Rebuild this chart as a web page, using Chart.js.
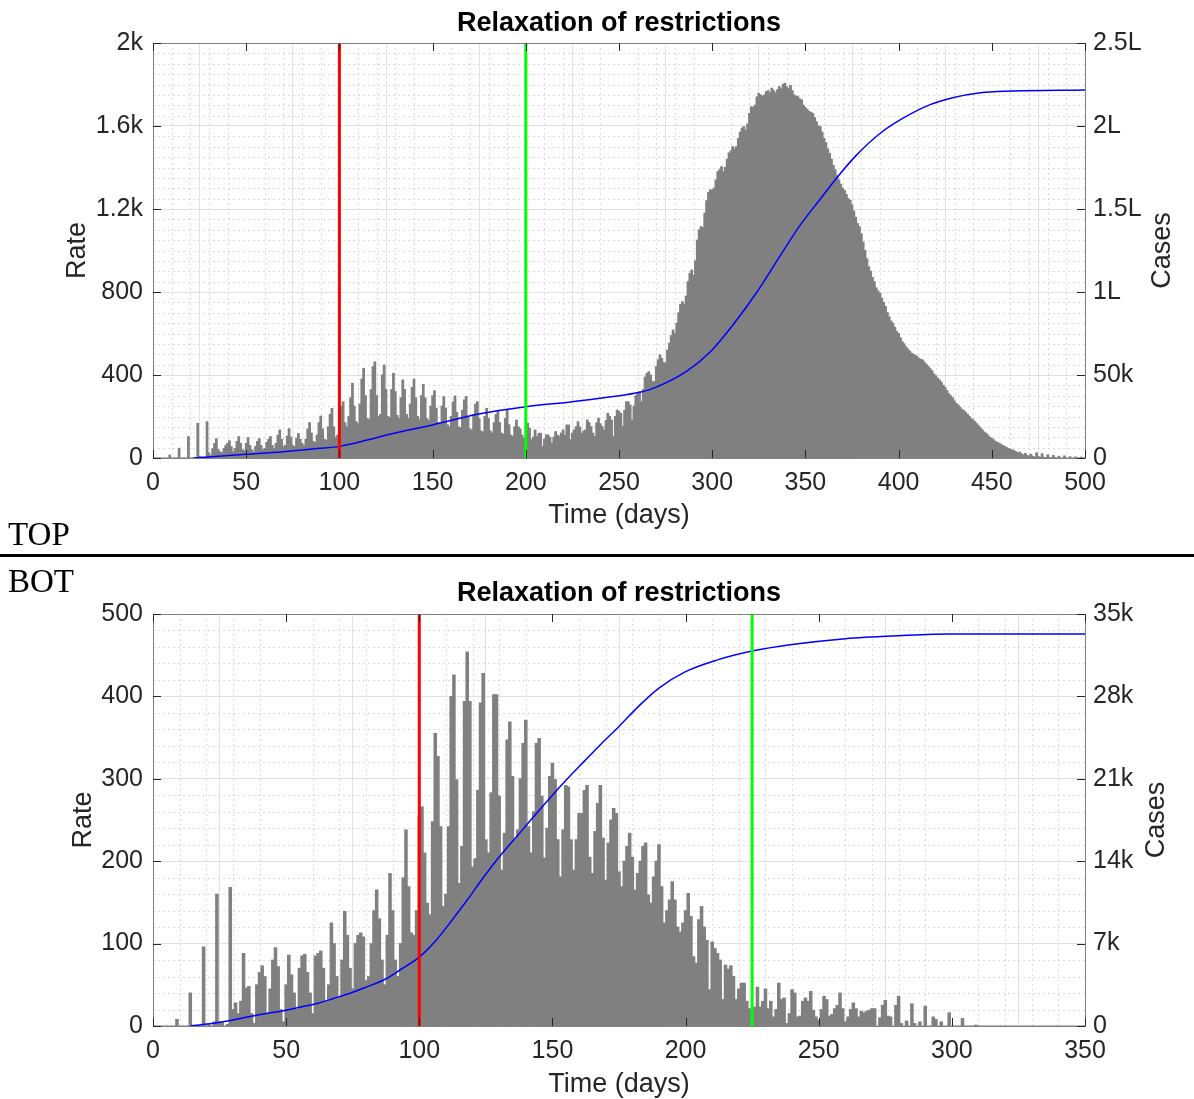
<!DOCTYPE html>
<html>
<head>
<meta charset="utf-8">
<script src="https://cdn.jsdelivr.net/npm/chart.js@4.4.1/dist/chart.umd.min.js"></script>
<style>
  html, body { margin: 0; padding: 0; background: #fff; }
  body { width: 1194px; height: 1099px; position: relative; overflow: hidden; }
  .panel { position: absolute; left: 0; width: 1194px; }
  .panel canvas { display: block; }
  #topPanel { top: 0; height: 540px; }
  #botPanel { top: 570px; height: 529px; }
  .tag { position: absolute; left: 8px; font: 33px "Liberation Serif", "Times New Roman", serif; line-height: 33px; color: #000; z-index: 2; }
  #sep { position: absolute; left: 0; top: 554px; width: 1194px; height: 3px; background: #000; z-index: 2; }
</style>
</head>
<body>
<div class="panel" id="topPanel"><canvas id="topChart" width="1194" height="540"></canvas></div>
<div class="panel" id="botPanel"><canvas id="botChart" width="1194" height="529"></canvas></div>
<div class="tag" style="top:518px">TOP</div>
<div id="sep"></div>
<div class="tag" style="top:565px">BOT</div>
<script>
// ---- TOP panel data (day 0..500) ----
var topRate = [
  0,0,0,0,0,0,0,0,0,14,
  0,0,0,0,47,0,0,0,0,103,
  0,0,3,0,167,8,4,0,2,175,
  25,12,45,70,93,40,30,25,45,60,
  70,83,55,30,45,80,103,70,40,35,
  70,98,60,40,30,55,80,93,60,40,
  45,75,90,103,60,45,70,110,135,90,
  55,60,105,141,100,60,55,95,118,90,
  70,60,90,140,170,120,80,75,110,170,
  202,140,90,85,150,210,239,150,100,110,
  180,250,271,170,150,200,290,360,250,175,
  165,260,380,432,300,190,185,330,440,463,
  300,200,210,400,448,330,200,195,330,408,
  320,205,190,290,376,330,210,190,260,340,
  380,290,200,185,300,355,290,190,180,250,
  300,324,240,170,165,250,296,240,160,150,
  200,270,299,220,150,145,230,280,296,200,
  140,135,210,260,271,190,130,125,200,239,
  190,130,120,170,210,224,170,120,115,190,
  231,160,110,105,150,183,150,140,110,95,
  70,167,143,88,100,135,103,119,119,55,
  90,111,111,100,71,100,127,110,103,120,
  135,110,159,159,88,120,135,150,175,150,
  119,130,135,183,170,151,120,103,170,191,
  165,151,135,180,215,200,183,103,200,231,
  225,215,151,230,271,271,255,183,250,300,
  311,319,271,330,390,408,416,400,368,368,
  440,473,497,480,460,457,520,553,590,617,
  600,650,700,740,753,740,780,850,890,906,
  880,950,1050,1100,1115,1110,1180,1240,1280,1292,
  1292,1300,1340,1380,1390,1404,1380,1400,1440,1470,
  1480,1500,1490,1500,1540,1570,1590,1597,1580,1610,
  1660,1693,1690,1700,1740,1757,1750,1745,1750,1765,
  1770,1760,1782,1770,1760,1775,1790,1780,1800,1806,
  1790,1780,1795,1770,1750,1745,1741,1730,1725,1700,
  1690,1680,1670,1665,1661,1640,1620,1600,1597,1570,
  1540,1520,1490,1468,1440,1410,1390,1360,1340,1320,
  1300,1290,1270,1250,1243,1220,1190,1160,1130,1115,
  1080,1040,1000,960,922,900,870,850,820,805,
  794,770,750,730,700,680,660,649,630,610,
  600,580,560,550,536,525,515,505,500,495,
  488,480,475,472,460,450,440,430,420,405,
  395,385,376,365,350,340,325,310,300,290,
  275,263,255,245,235,228,220,210,200,190,
  183,175,165,155,145,135,125,119,110,100,
  95,88,80,75,71,65,60,55,50,45,
  42,39,35,30,25,28,20,15,22,12,
  10,18,8,5,25,6,4,20,3,2,
  15,3,0,12,2,0,8,0,0,10,
  0,0,6,0,0,5,0,0,4,0,
  0
];
var topCaseDays = [22, 50, 70, 88, 100, 115, 127, 150, 174, 200, 225, 249, 261, 268, 286, 299, 311, 324, 336, 347, 358, 367, 377, 390, 401, 415, 429, 444, 458, 500];
var topCases    = [0, 2200, 3800, 5700, 7000, 10800, 14300, 19900, 26300, 30900, 33900, 37300, 39600, 41800, 52000, 64000, 80000, 100000, 121000, 140000, 156000, 169000, 182000, 195500, 203800, 212000, 217000, 220000, 221000, 221700];
var topMarkers = [100, 200];                 // red, green
var topDayTicks = [0, 50, 100, 150, 200, 250, 300, 350, 400, 450, 500];
var topRateTicks = [0, 400, 800, 1200, 1600, 2000];
var topRateLabels = ['0', '400', '800', '1.2k', '1.6k', '2k'];
var topCaseTicks = [0, 50000, 100000, 150000, 200000, 250000];
var topCaseLabels = ['0', '50k', '1L', '1.5L', '2L', '2.5L'];

// ---- BOT panel data (day 0..350) ----
var botRate = [
  0,0,0,0,0,0,0,0,0,8,
  0,0,0,0,40,0,0,0,0,96,
  0,2,0,5,160,5,4,0,2,168,
  20,28,15,30,88,46,48,15,3,50,
  65,73,60,15,45,80,95,72,20,5,
  50,86,62,40,20,70,85,87,65,40,
  15,85,88,91,70,30,50,125,100,60,
  35,80,139,110,70,45,100,110,113,108,
  55,60,100,140,165,130,80,50,110,185,
  140,80,60,100,180,238,169,113,110,140,
  254,266,210,149,135,248,355,327,242,145,
  160,242,400,426,299,173,218,394,454,394,
  193,203,286,392,428,226,210,283,402,402,
  279,189,234,347,369,303,226,238,300,343,
  371,242,210,260,343,349,279,204,240,303,
  319,299,226,181,238,292,290,226,189,226,
  258,258,286,292,205,185,236,270,292,228,
  177,222,250,264,258,187,169,200,218,234,
  205,165,185,200,218,222,159,149,181,200,
  220,169,125,140,153,175,153,120,114,125,
  140,161,133,84,76,129,145,120,104,44,
  102,94,88,80,32,74,69,73,60,32,
  45,52,52,30,21,20,23,47,23,30,
  45,21,30,11,20,52,32,34,3,15,
  44,40,11,12,30,34,30,42,19,11,
  7,20,36,32,12,14,21,25,40,21,
  5,11,20,28,21,11,18,16,18,19,
  21,21,0,10,25,31,12,11,0,25,
  36,3,0,6,0,27,3,0,5,0,
  24,0,0,11,8,0,5,0,0,16,
  0,0,0,0,9,0,0,0,0,1,
  0,0,0,0,0,0,0,0,0,0,
  0,0,0,0,0,0,0,0,0,0,
  0,0,0,0,0,0,0,0,0,0,
  0,0,0,0,0,0,0,0,0,0,
  0
];
var botCaseDays = [14, 24, 30, 36, 43, 49, 55, 62, 68, 74, 80, 87, 93, 100, 106, 112, 118, 124, 130, 137, 143, 149, 155, 162, 168, 175, 183, 190, 200, 212, 225, 240, 260, 280, 300, 350];
var botCases    = [0, 280, 510, 790, 1080, 1300, 1590, 1930, 2350, 2780, 3300, 3950, 4800, 5850, 7200, 8900, 10700, 12600, 14350, 16200, 17800, 19350, 20850, 22500, 23900, 25450, 27300, 28700, 30100, 31100, 31850, 32400, 32900, 33150, 33300, 33300];
var botMarkers = [100, 225];
var botDayTicks = [0, 50, 100, 150, 200, 250, 300, 350];
var botRateTicks = [0, 100, 200, 300, 400, 500];
var botRateLabels = ['0', '100', '200', '300', '400', '500'];
var botCaseTicks = [0, 7000, 14000, 21000, 28000, 35000];
var botCaseLabels = ['0', '7k', '14k', '21k', '28k', '35k'];

var FONT = '"Liberation Sans", Arial, Helvetica, sans-serif';
var TXT = '#262626';
Chart.defaults.font.family = FONT;
Chart.defaults.font.size = 25;
Chart.defaults.color = TXT;

// minor dotted grid, axes box, inward ticks, titles
var decor = {
  id: 'decor',
  beforeDatasetsDraw: function(chart, args, o) {
    var ctx = chart.ctx, a = chart.chartArea, sx = chart.scales.x, sy = chart.scales.y;
    ctx.save();
    ctx.strokeStyle = '#dcdcdc';
    ctx.lineWidth = 1;
    ctx.setLineDash([2, 3]);
    ctx.beginPath();
    for (var i = 0; i * o.xMinor <= sx.max; i++) {
      if ((i * o.xMinor) % o.xMajor === 0) continue;
      var px = Math.round(sx.getPixelForValue(i * o.xMinor)) + 0.5;
      ctx.moveTo(px, a.top); ctx.lineTo(px, a.bottom);
    }
    for (var j = 0; j * o.yMinor <= sy.max; j++) {
      if ((j * o.yMinor) % o.yMajor === 0) continue;
      var py = Math.round(sy.getPixelForValue(j * o.yMinor)) + 0.5;
      ctx.moveTo(a.left, py); ctx.lineTo(a.right, py);
    }
    ctx.stroke();
    ctx.restore();
  },
  afterDatasetsDraw: function(chart, args, o) {
    var ctx = chart.ctx, a = chart.chartArea, sx = chart.scales.x, sy = chart.scales.y;
    ctx.save();
    ctx.strokeStyle = '#808080';
    ctx.lineWidth = 1;
    ctx.strokeRect(Math.round(a.left) + 0.5, Math.round(a.top) + 0.5, Math.round(a.right - a.left), Math.round(a.bottom - a.top));
    ctx.strokeStyle = TXT;
    ctx.beginPath();
    var L = 8;
    o.dayTicks.forEach(function(v) {
      var px = Math.round(sx.getPixelForValue(v)) + 0.5;
      ctx.moveTo(px, a.bottom); ctx.lineTo(px, a.bottom - L);
      ctx.moveTo(px, a.top); ctx.lineTo(px, a.top + L);
    });
    o.rateTicks.forEach(function(v) {
      var py = Math.round(sy.getPixelForValue(v)) + 0.5;
      ctx.moveTo(a.left, py); ctx.lineTo(a.left + L, py);
      ctx.moveTo(a.right, py); ctx.lineTo(a.right - L, py);
    });
    ctx.stroke();

    var cx = (a.left + a.right) / 2, cy = (a.top + a.bottom) / 2;
    ctx.textAlign = 'center';
    ctx.textBaseline = 'middle';
    ctx.fillStyle = '#000';
    ctx.font = 'bold 27px ' + FONT;
    ctx.fillText(o.title, cx, o.titleY);
    ctx.fillStyle = TXT;
    ctx.font = '27px ' + FONT;
    ctx.fillText(o.xLabel, cx, o.xLabelY);
    ctx.save();
    ctx.translate(o.rateX, cy); ctx.rotate(-Math.PI / 2);
    ctx.fillText(o.rateLabel, 0, 0);
    ctx.restore();
    ctx.save();
    ctx.translate(o.casesX, cy); ctx.rotate(-Math.PI / 2);
    ctx.fillText(o.casesLabel, 0, 0);
    ctx.restore();
    ctx.restore();
  }
};

function makeChart(id, p) {
  var vline = function(day, color) {
    return {
      type: 'line', yAxisID: 'y', order: 1,
      data: [{ x: day, y: 0 }, { x: day, y: p.rateTicks[p.rateTicks.length - 1] }],
      borderColor: color, borderWidth: 3, pointRadius: 0
    };
  };
  return new Chart(document.getElementById(id), {
    type: 'bar',
    data: {
      datasets: [
        {
          type: 'bar', yAxisID: 'y', order: 3,
          data: p.rate.map(function(v, i) { return { x: i, y: v }; }),
          backgroundColor: 'rgb(128,128,128)', borderWidth: 0,
          barPercentage: 1, categoryPercentage: 1, inflateAmount: 0.45
        },
        {
          type: 'line', yAxisID: 'y1', order: 2,
          data: p.caseDays.map(function(d, i) { return { x: d, y: p.cases[i] }; }),
          borderColor: '#0000ff', borderWidth: 1.5, pointRadius: 0,
          cubicInterpolationMode: 'monotone'
        },
        vline(p.markers[0], '#ff0000'),
        vline(p.markers[1], '#00ff00')
      ]
    },
    options: {
      responsive: false,
      animation: false,
      events: [],
      layout: { padding: { top: p.top, left: 0, right: 0, bottom: 0 } },
      plugins: {
        legend: { display: false },
        tooltip: { enabled: false },
        decor: {
          title: 'Relaxation of restrictions', xLabel: 'Time (days)', rateLabel: 'Rate', casesLabel: 'Cases',
          titleY: p.titleY, xLabelY: p.xLabelY, rateX: p.rateX, casesX: p.casesX,
          xMinor: 10, xMajor: 50, yMinor: p.yMinor, yMajor: p.rateTicks[1],
          dayTicks: p.dayTicks, rateTicks: p.rateTicks
        }
      },
      scales: {
        x: {
          type: 'linear', min: 0, max: p.dayTicks[p.dayTicks.length - 1], offset: false,
          afterBuildTicks: function(s) { s.ticks = p.dayTicks.map(function(v) { return { value: v }; }); },
          afterFit: function(s) { s.height = p.xHeight; },
          grid: { color: '#e2e2e2', drawTicks: false },
          border: { display: false },
          ticks: { autoSkip: false, maxRotation: 0, padding: 10, color: TXT,
                   callback: function(v) { return String(v); } }
        },
        y: {
          position: 'left', min: 0, max: p.rateTicks[p.rateTicks.length - 1],
          afterBuildTicks: function(s) { s.ticks = p.rateTicks.map(function(v) { return { value: v }; }); },
          afterFit: function(s) { s.width = 153; },
          grid: { color: '#e2e2e2', drawTicks: false },
          border: { display: false },
          ticks: { padding: 10, color: TXT,
                   callback: function(v) { return p.rateLabels[p.rateTicks.indexOf(v)]; } }
        },
        y1: {
          position: 'right', min: 0, max: p.caseTicks[p.caseTicks.length - 1],
          afterBuildTicks: function(s) { s.ticks = p.caseTicks.map(function(v) { return { value: v }; }); },
          afterFit: function(s) { s.width = 109; },
          grid: { display: false, drawTicks: false },
          border: { display: false },
          ticks: { padding: 8, color: TXT,
                   callback: function(v) { return p.caseLabels[p.caseTicks.indexOf(v)]; } }
        }
      }
    },
    plugins: [decor]
  });
}

makeChart('topChart', {
  rate: topRate, caseDays: topCaseDays, cases: topCases, markers: topMarkers,
  dayTicks: topDayTicks, rateTicks: topRateTicks, rateLabels: topRateLabels,
  caseTicks: topCaseTicks, caseLabels: topCaseLabels,
  yMinor: 50, top: 43, xHeight: 82, titleY: 24, xLabelY: 516, rateX: 78, casesX: 1163
});
makeChart('botChart', {
  rate: botRate, caseDays: botCaseDays, cases: botCases, markers: botMarkers,
  dayTicks: botDayTicks, rateTicks: botRateTicks, rateLabels: botRateLabels,
  caseTicks: botCaseTicks, caseLabels: botCaseLabels,
  yMinor: 20, top: 44, xHeight: 73, titleY: 24, xLabelY: 515, rateX: 84, casesX: 1157
});
</script>
</body>
</html>
